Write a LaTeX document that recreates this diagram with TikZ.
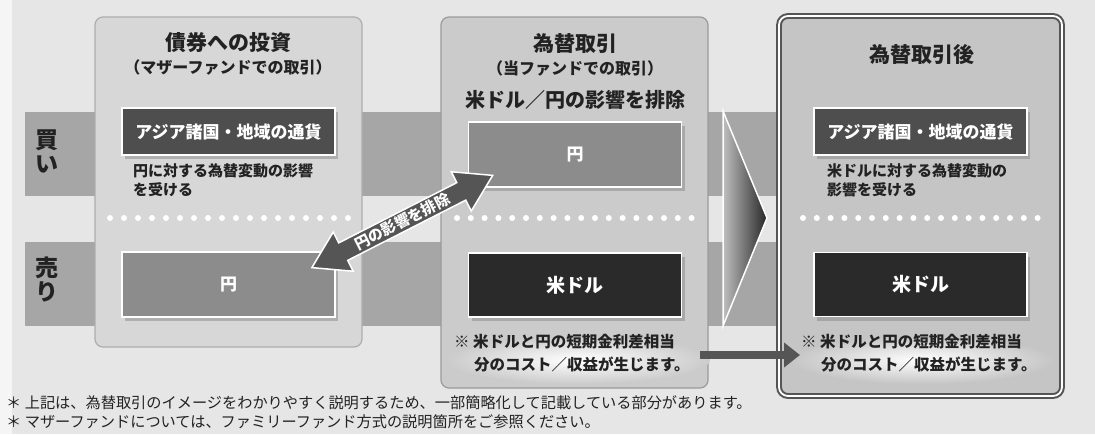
\documentclass[tikz,border=0pt]{standalone}
\usepackage{fontspec}
\setmainfont{Noto Sans CJK JP}
\usetikzlibrary{shadows,shapes.arrows,arrows.meta}
\definecolor{bgc}{HTML}{E6E6E6}
\definecolor{bandc}{HTML}{A6A6A6}
\definecolor{pAfill}{HTML}{D7D7D7}
\definecolor{pAline}{HTML}{ADADAD}
\definecolor{pBfill}{HTML}{CBCBCB}
\definecolor{pBline}{HTML}{9A9A9A}
\definecolor{pCfill}{HTML}{C5C5C5}
\definecolor{pCline}{HTML}{555555}
\definecolor{boxA}{HTML}{4E4E4E}
\definecolor{boxB}{HTML}{8C8C8C}
\definecolor{boxC}{HTML}{2A2A2A}
\definecolor{arrc}{HTML}{555555}
\definecolor{txt}{HTML}{222222}
\tikzset{
  panelA/.style={draw=pAline, fill=pAfill, line width=1.2pt, rounded corners=8pt},
  panelB/.style={draw=pBline, fill=pBfill, line width=1.2pt, rounded corners=8pt},
  panelC/.style={draw=pCline, fill=pCfill, line width=2pt, double=white, double distance=1.8pt, rounded corners=9pt},
  cbox/.style={draw=white, line width=1.8pt, text=white, inner sep=0pt,
    minimum width=213pt, minimum height=47pt,
    drop shadow={opacity=0.45, shadow xshift=3pt, shadow yshift=-4pt}},
  boxtxt/.style={font=\bfseries\fontsize{17}{20}\selectfont},
  boxtxtL/.style={font=\bfseries\fontsize{19}{22}\selectfont},
  ttl/.style={text=txt, inner sep=0pt, font=\bfseries\fontsize{21}{24}\selectfont},
  subttl/.style={text=txt, inner sep=0pt, font=\bfseries\fontsize{16}{19}\selectfont},
  subttlB/.style={text=txt, inner sep=0pt, font=\bfseries\fontsize{20}{23}\selectfont},
  captxt/.style={text=txt, inner sep=0pt, align=left, anchor=north west, font=\bfseries\fontsize{15}{19}\selectfont},
  notetxt/.style={text=txt, inner sep=0pt, align=left, anchor=north west, font=\bfseries\fontsize{15.5}{23}\selectfont},
  foottxt/.style={text=txt, inner sep=0pt, anchor=west, font=\fontsize{15.2}{17}\selectfont},
  sidelab/.style={text=txt, inner sep=0pt, align=center, font=\bfseries\fontsize{23}{24}\selectfont},
  dblarrow/.style={double arrow, draw=white, fill=arrc, line width=1.5pt,
    minimum height=203pt, minimum width=44pt, double arrow head extend=11pt,
    double arrow tip angle=64, inner sep=1pt, text=white,
    font=\bfseries\fontsize{15}{15}\selectfont},
  harrow/.style={line width=8pt, draw=arrc, -{Triangle[width=24pt,length=16pt]}},
  dotfill/.style={white}
}
\begin{document}
\begin{tikzpicture}[x=1pt,y=-1pt]
\useasboundingbox (0,0) rectangle (1095,434);
\fill[white!60!bgc] (0,0) rectangle (1095,434);
\fill[bgc] (12,0) rectangle (1095,434);
% bands
\fill[bandc] (25,112) rectangle (780,196);
\fill[bandc] (25,242) rectangle (780,326);
\node[sidelab] (buy) at (47,151) {買\\い};
\node[sidelab] (sell) at (47,280) {売\\り};
% panels
\node[panelA, minimum width=267pt, minimum height=330pt] (P1) at (228.5,182) {};
\node[panelB, minimum width=267pt, minimum height=371pt] (P2) at (574.5,202.5) {};
\node[panelC, minimum width=283pt, minimum height=380pt] (P3) at (920.5,206) {};
% glows
\shade[inner color=white, outer color=pBfill] (578,360) ellipse [x radius=132pt, y radius=24pt];
\shade[inner color=white, outer color=pCfill] (922,360) ellipse [x radius=132pt, y radius=24pt];
% titles
\node[ttl] (t1) at (228,43) {債券への投資};
\node[subttl] (s1) at (228,67) {（マザーファンドでの取引）};
\node[ttl] (t2) at (575,44) {為替取引};
\node[subttl] (s2) at (575,68) {（当ファンドでの取引）};
\node[subttlB] (s2b) at (575,100) {米ドル／円の影響を排除};
\node[ttl] (t3) at (922,55) {為替取引後};
% boxes
\node[cbox, fill=boxA, boxtxt] (p1as) at (228.5,131.5) {アジア諸国・地域の通貨};
\node[cbox, fill=boxB, boxtxt, minimum height=65pt] (p1en) at (228.5,284.5) {円};
\node[cbox, fill=boxB, boxtxt, minimum height=65pt] (p2en) at (575,154.5) {円};
\node[cbox, fill=boxC, boxtxtL, minimum height=64pt] (p2us) at (575,285) {米ドル};
\node[cbox, fill=boxA, boxtxt] (p3as) at (920.5,131.5) {アジア諸国・地域の通貨};
\node[cbox, fill=boxC, boxtxtL, minimum height=64pt] (p3us) at (920.5,284.5) {米ドル};
% captions
\node[captxt] (c1) at (133,163) {円に対する為替変動の影響\\を受ける};
\node[captxt] (c3) at (827,163) {米ドルに対する為替変動の\\影響を受ける};
% dotted lines
\foreach \i in {0,...,17} \fill[dotfill] (110+\i*14,218) circle (3pt);
\foreach \i in {0,...,17} \fill[dotfill] (457+\i*13.8,218) circle (3pt);
\foreach \i in {0,...,17} \fill[dotfill] (803+\i*13.8,218) circle (3pt);
% notes
\node[notetxt] (n2) at (454,334) {※ 米ドルと円の短期金利差相当\\\hspace*{20pt}分のコスト／収益が生じます。};
\node[notetxt] (n3) at (801,334) {※ 米ドルと円の短期金利差相当\\\hspace*{20pt}分のコスト／収益が生じます。};
% chevron
\shade[left color=white!75!black, right color=black!85] (723,111) -- (767,218) -- (723,326) -- cycle;
\draw[white, line width=1.5pt, line join=miter] (723,111) -- (767,218) -- (723,326) -- cycle;
% diagonal double arrow
\coordinate (d1) at ([xshift=-23pt,yshift=-16pt]p1en.north east);
\coordinate (d2) at ([xshift=24pt,yshift=12pt]p2en.south west);
\path (d1) -- (d2) node[midway, sloped, dblarrow] (dbl) {円の影響を排除};
% horizontal arrow
\coordinate (h1) at (700,355);
\coordinate (h2) at (800,355);
\draw[harrow] (h1) -- (h2);
% footnotes
\node[foottxt] (f1) at (6,403) {＊ 上記は、為替取引のイメージをわかりやすく説明するため、一部簡略化して記載している部分があります。};
\node[foottxt] (f2) at (6,422) {＊ マザーファンドについては、ファミリーファンド方式の説明箇所をご参照ください。};
\end{tikzpicture}
\end{document}
